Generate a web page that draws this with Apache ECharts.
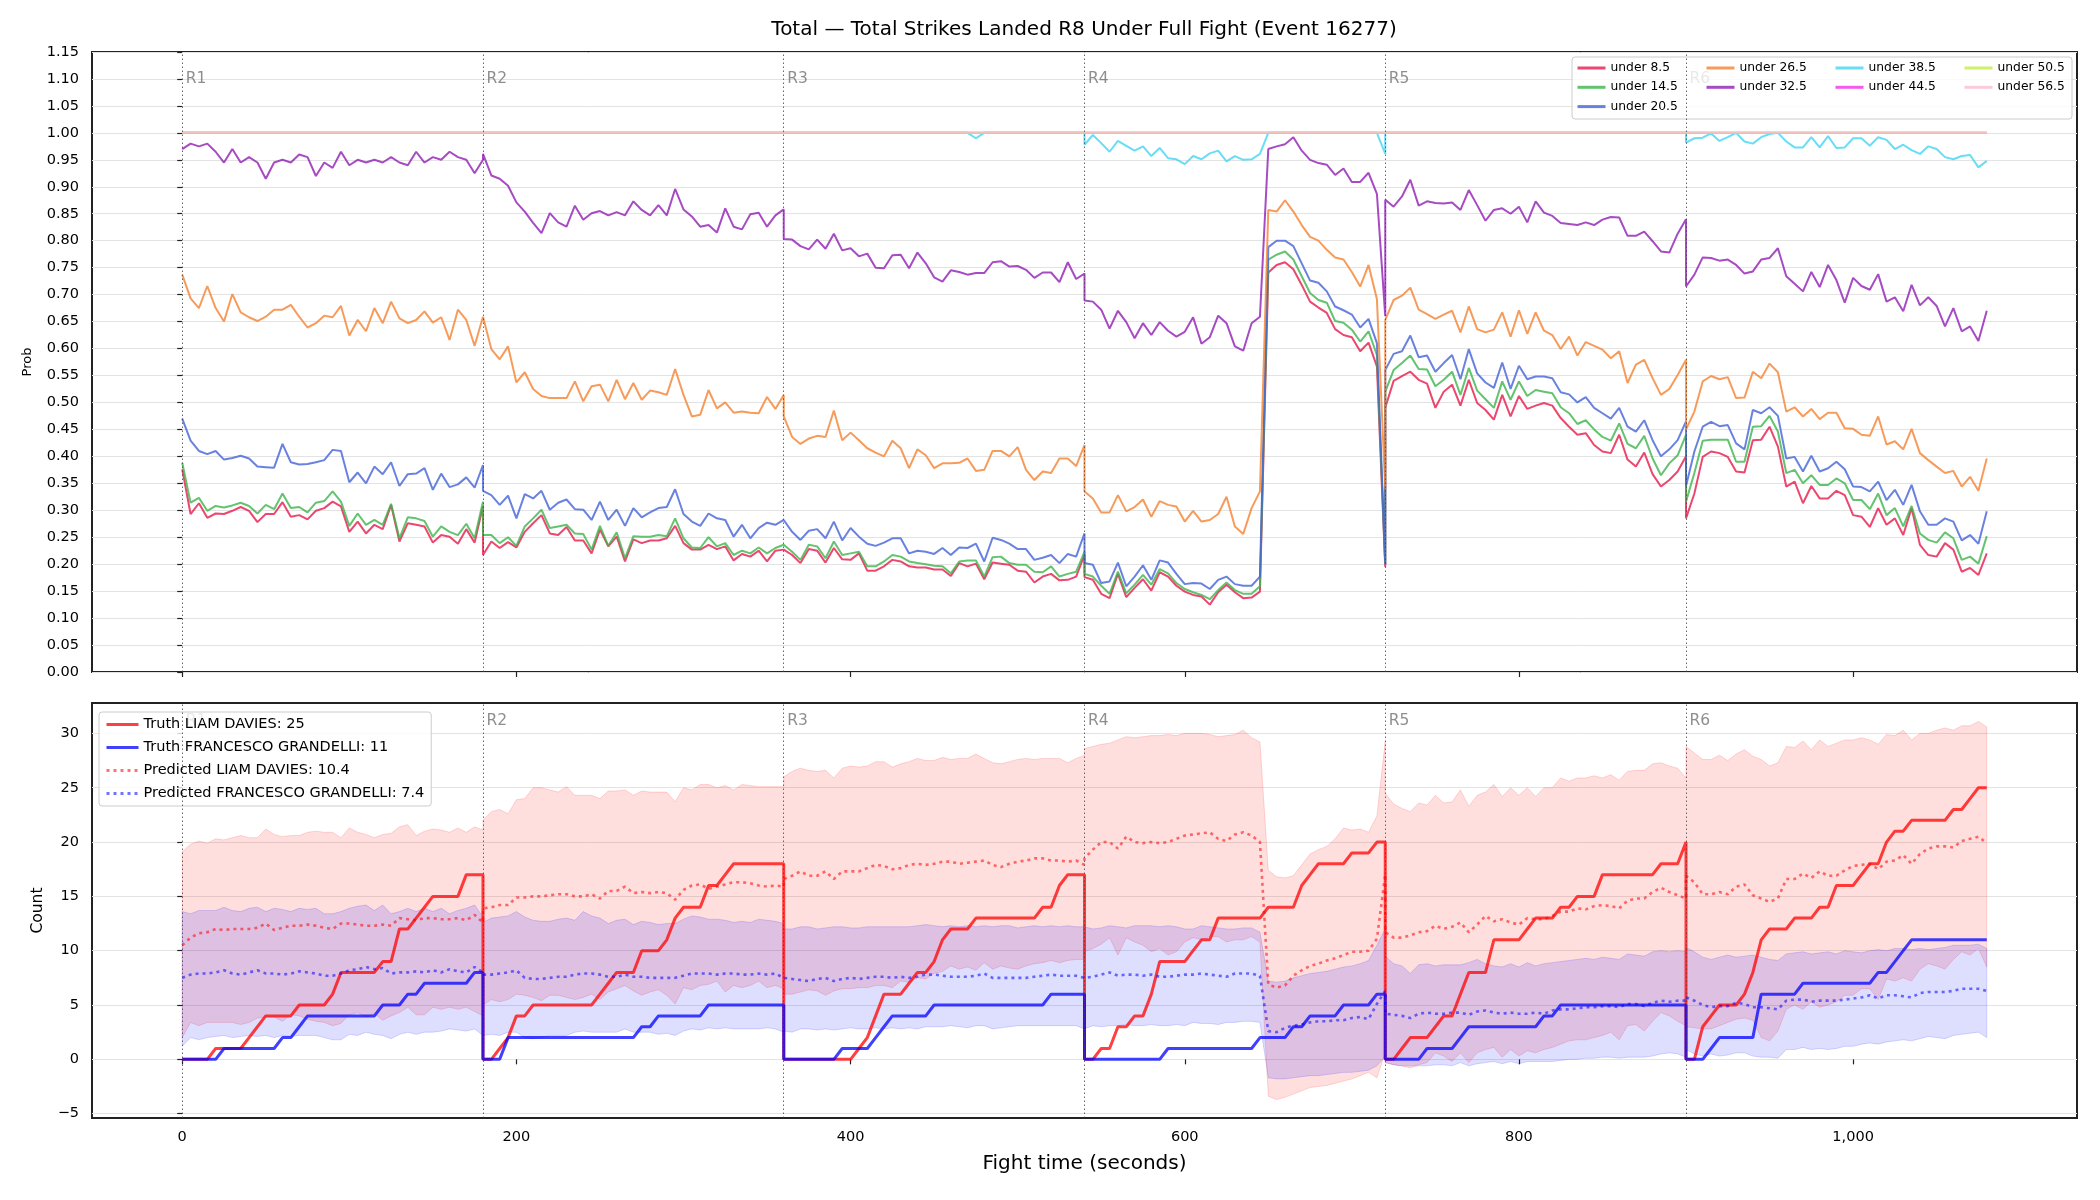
<!DOCTYPE html>
<html>
<head>
<meta charset="utf-8">
<title>Total Strikes Landed R8 Under Full Fight</title>
<script src="https://cdn.jsdelivr.net/npm/echarts@6/dist/echarts.min.js"></script>
<style>
html, body { margin: 0; padding: 0; background: #fff; }
#main { width: 2100px; height: 1200px; }
</style>
</head>
<body>
<div id="main"></div>
<script>
// rounds of the fight, samples every 5 s inside a round
var roundStarts = [0, 180, 360, 540, 720, 900];
var roundNames = ['R1', 'R2', 'R3', 'R4', 'R5', 'R6'];
var stepOffsets = [0, 5, 10, 15, 20, 25, 30, 35, 40, 45, 50, 55, 60, 65, 70, 75, 80, 85, 90, 95, 100, 105, 110, 115, 120, 125, 130, 135, 140, 145, 150, 155, 160, 165, 170, 175, 180];
var timeTicks = [0, 200, 400, 600, 800, 1000];
var countTicks = [-5, 0, 5, 10, 15, 20, 25, 30];

// top panel: P(total strikes under line), one array per round
var under8_5 = [
    [.376,.293,.313,.286,.294,.293,.299,.306,.299,.278,.293,.293,.315,.288,.291,.283,.299,.304,.316,.307,.260,.279,.257,.273,.265,.310,.242,.276,.273,.270,.240,.254,.251,.238,.265,.240,.308],
    [.217,.242,.230,.241,.231,.260,.276,.291,.257,.254,.269,.244,.244,.220,.264,.233,.251,.205,.246,.239,.244,.244,.248,.271,.239,.227,.227,.236,.228,.233,.207,.219,.214,.225,.205,.225,.227],
    [.227,.217,.202,.228,.225,.203,.230,.209,.208,.220,.188,.188,.196,.208,.205,.196,.194,.194,.190,.190,.178,.202,.196,.201,.172,.203,.201,.199,.188,.186,.166,.177,.182,.170,.171,.177,.217],
    [.176,.171,.145,.137,.182,.139,.156,.172,.151,.185,.177,.160,.149,.143,.140,.125,.148,.162,.148,.137,.138,.149,.741,.755,.760,.747,.718,.687,.676,.666,.636,.625,.621,.595,.611,.567,.195],
    [.49,.54,.549,.557,.542,.535,.49,.520,.533,.494,.542,.499,.486,.468,.514,.474,.512,.488,.494,.499,.494,.471,.455,.44,.443,.421,.409,.406,.44,.394,.381,.407,.367,.344,.356,.372,.40],
    [.285,.331,.399,.409,.406,.399,.372,.370,.430,.431,.455,.418,.344,.353,.313,.345,.322,.322,.336,.328,.291,.288,.269,.304,.273,.285,.254,.304,.236,.217,.214,.239,.227,.186,.193,.180,.220]
];
var under14_5 = [
    [.388,.314,.323,.299,.308,.305,.309,.314,.308,.294,.310,.302,.331,.304,.306,.296,.314,.317,.335,.316,.271,.294,.273,.282,.273,.312,.248,.287,.285,.280,.251,.270,.260,.254,.275,.248,.316],
    [.254,.254,.239,.250,.234,.270,.285,.301,.267,.270,.273,.257,.256,.227,.271,.234,.259,.211,.252,.251,.251,.254,.252,.285,.248,.231,.230,.250,.233,.239,.217,.225,.220,.231,.220,.230,.236],
    [.236,.223,.208,.236,.233,.211,.242,.217,.220,.223,.196,.196,.205,.217,.214,.205,.202,.200,.197,.196,.183,.205,.207,.207,.177,.213,.214,.202,.199,.199,.186,.185,.196,.177,.182,.186,.223],
    [.182,.177,.160,.145,.186,.146,.162,.180,.162,.191,.183,.165,.154,.148,.143,.135,.152,.166,.152,.145,.145,.159,.765,.774,.780,.765,.734,.703,.690,.685,.651,.648,.635,.613,.632,.588,.20],
    [.52,.56,.573,.587,.562,.561,.53,.542,.557,.514,.564,.522,.506,.490,.539,.505,.539,.512,.523,.520,.517,.491,.48,.46,.467,.45,.436,.429,.461,.423,.415,.438,.396,.365,.387,.402,.44],
    [.316,.369,.429,.431,.431,.431,.39,.39,.455,.456,.475,.446,.369,.375,.35,.365,.347,.347,.359,.35,.319,.319,.302,.331,.291,.304,.27,.308,.257,.245,.240,.259,.248,.208,.214,.201,.252]
];
var under20_5 = [
    [.47,.429,.41,.404,.41,.394,.397,.401,.396,.381,.380,.379,.423,.389,.385,.386,.389,.393,.412,.410,.352,.37,.35,.381,.367,.389,.345,.367,.368,.378,.338,.368,.343,.348,.361,.342,.384],
    [.336,.328,.31,.327,.285,.330,.322,.336,.301,.314,.320,.302,.301,.282,.316,.282,.301,.271,.304,.287,.296,.304,.306,.339,.293,.279,.271,.294,.285,.282,.251,.273,.248,.267,.277,.273,.282],
    [.282,.26,.245,.262,.265,.248,.279,.244,.267,.251,.238,.234,.240,.248,.248,.220,.225,.223,.219,.230,.217,.231,.230,.238,.205,.249,.245,.238,.228,.228,.208,.212,.217,.202,.219,.214,.257],
    [.202,.199,.165,.168,.203,.159,.177,.198,.171,.207,.203,.182,.163,.165,.164,.154,.171,.177,.163,.160,.160,.177,.788,.800,.800,.790,.758,.726,.722,.706,.678,.671,.663,.639,.655,.610,.20],
    [.56,.59,.595,.624,.584,.587,.557,.573,.588,.543,.599,.554,.537,.527,.574,.525,.568,.543,.548,.548,.545,.519,.515,.50,.51,.49,.48,.47,.49,.455,.446,.467,.43,.40,.413,.43,.465],
    [.345,.409,.455,.464,.456,.458,.424,.413,.486,.48,.491,.475,.396,.399,.372,.401,.372,.378,.39,.376,.344,.343,.335,.353,.319,.338,.31,.347,.298,.273,.273,.285,.279,.244,.254,.238,.298]
];
var under26_5 = [
    [.737,.693,.675,.716,.675,.650,.701,.667,.658,.651,.659,.672,.672,.681,.659,.639,.647,.661,.658,.679,.624,.653,.632,.675,.647,.687,.656,.647,.653,.669,.648,.658,.616,.672,.653,.605,.659],
    [.66,.599,.580,.604,.537,.556,.525,.512,.508,.508,.508,.539,.502,.530,.533,.502,.542,.506,.536,.505,.522,.519,.514,.562,.514,.474,.477,.523,.489,.500,.481,.483,.481,.480,.510,.488,.514],
    [.474,.436,.423,.433,.438,.436,.485,.430,.444,.430,.415,.407,.400,.429,.415,.378,.413,.402,.378,.387,.387,.388,.396,.373,.375,.410,.410,.400,.417,.375,.356,.372,.369,.396,.396,.382,.421],
    [.335,.322,.296,.296,.328,.298,.306,.320,.288,.317,.310,.307,.279,.299,.279,.282,.293,.325,.270,.256,.304,.335,.857,.854,.875,.854,.829,.807,.800,.783,.769,.765,.742,.715,.755,.692,.34],
    [.653,.690,.698,.713,.672,.664,.655,.663,.670,.630,.678,.636,.630,.635,.667,.622,.671,.627,.667,.633,.625,.599,.622,.587,.612,.605,.598,.582,.595,.536,.570,.579,.545,.514,.525,.551,.579],
    [.45,.483,.539,.549,.543,.547,.508,.509,.557,.545,.572,.556,.483,.491,.474,.488,.469,.481,.481,.452,.451,.440,.438,.474,.422,.428,.413,.451,.406,.393,.381,.369,.373,.344,.362,.336,.396]
];
var under32_5 = [
    [.97,.98,.975,.98,.965,.945,.97,.945,.955,.945,.915,.945,.95,.945,.96,.955,.92,.945,.935,.965,.94,.95,.945,.95,.945,.955,.945,.94,.965,.945,.955,.95,.965,.955,.95,.925,.95],
    [.961,.921,.915,.902,.871,.854,.833,.814,.851,.834,.826,.865,.839,.851,.855,.847,.853,.847,.873,.857,.847,.866,.847,.896,.858,.845,.826,.829,.815,.860,.826,.821,.849,.852,.826,.847,.858],
    [.803,.802,.790,.784,.802,.785,.813,.782,.786,.771,.776,.750,.749,.773,.774,.749,.778,.758,.732,.724,.745,.742,.737,.740,.740,.760,.762,.752,.753,.746,.731,.741,.741,.723,.760,.729,.739],
    [.689,.687,.672,.637,.670,.649,.619,.647,.625,.649,.633,.622,.631,.658,.609,.621,.661,.647,.604,.596,.647,.659,.970,.975,.979,.992,.967,.950,.944,.941,.922,.934,.909,.909,.926,.887,.66],
    [.876,.863,.882,.913,.865,.873,.870,.869,.871,.857,.894,.866,.837,.857,.860,.850,.863,.834,.873,.852,.846,.833,.831,.829,.834,.829,.839,.844,.843,.809,.809,.817,.799,.780,.778,.813,.840],
    [.715,.737,.769,.768,.763,.765,.755,.739,.743,.765,.768,.786,.734,.720,.706,.742,.714,.755,.727,.685,.731,.716,.709,.738,.687,.695,.669,.718,.68,.695,.679,.641,.675,.632,.641,.614,.670]
];
var under38_5 = [
    [1,1,1,1,1,1,1,1,1,1,1,1,1,1,1,1,1,1,1,1,1,1,1,1,1,1,1,1,1,1,1,1,1,1,1,1,1],
    [1,1,1,1,1,1,1,1,1,1,1,1,1,1,1,1,1,1,1,1,1,1,1,1,1,1,1,1,1,1,1,1,1,1,1,1,1],
    [1,1,1,1,1,1,1,1,1,1,1,1,1,1,1,1,1,1,1,1,1,1,1,.99,1,1,1,1,1,1,1,1,1,1,1,1,1],
    [.978,.996,.981,.965,.985,.976,.967,.975,.957,.972,.953,.951,.942,.957,.951,.962,.967,.947,.957,.950,.951,.961,1,1,1,1,1,1,1,1,1,1,1,1,1,1,.961],
    [1,1,1,1,1,1,1,1,1,1,1,1,1,1,1,1,1,1,1,1,1,1,1,1,1,1,1,1,1,1,1,1,1,1,1,1,1],
    [.982,.990,.991,.999,.985,.992,1,.984,.980,.992,.998,1,.984,.973,.973,.992,.973,.994,.972,.973,.990,.990,.976,.992,.987,.970,.978,.968,.961,.975,.970,.955,.951,.957,.959,.936,.948]
];
// the three highest lines sit at 1.0 for the whole fight
var flatTimes = [0, 1080];
var under44_5 = [1, 1];
var under50_5 = [1, 1];
var under56_5 = [1, 1];

// bottom panel: cumulative strikes per round
var truthLiam = [
    [0,0,0,0,1,1,1,1,2,3,4,4,4,4,5,5,5,5,6,8,8,8,8,8,9,9,12,12,13,14,15,15,15,15,17,17,17],
    [0,0,1,2,4,4,5,5,5,5,5,5,5,5,6,7,8,8,8,10,10,10,11,13,14,14,14,16,16,17,18,18,18,18,18,18,18],
    [0,0,0,0,0,0,0,0,0,1,2,4,6,6,6,7,8,8,9,11,12,12,12,13,13,13,13,13,13,13,13,14,14,16,17,17,17],
    [0,0,1,1,3,3,4,4,6,9,9,9,9,10,11,11,13,13,13,13,13,13,14,14,14,14,16,17,18,18,18,18,19,19,19,20,20],
    [0,0,1,2,2,2,3,4,4,6,8,8,8,11,11,11,11,12,13,13,13,14,14,15,15,15,17,17,17,17,17,17,17,18,18,18,20],
    [0,0,3,4,5,5,5,6,8,11,12,12,12,13,13,13,14,14,16,16,16,17,18,18,20,21,21,22,22,22,22,22,23,23,24,25,25]
];
var truthFran = [
    [0,0,0,0,0,1,1,1,1,1,1,1,2,2,3,4,4,4,4,4,4,4,4,4,5,5,5,6,6,7,7,7,7,7,7,8,8],
    [0,0,0,2,2,2,2,2,2,2,2,2,2,2,2,2,2,2,2,3,3,4,4,4,4,4,4,5,5,5,5,5,5,5,5,5,5],
    [0,0,0,0,0,0,0,1,1,1,1,2,3,4,4,4,4,4,5,5,5,5,5,5,5,5,5,5,5,5,5,5,6,6,6,6,6],
    [0,0,0,0,0,0,0,0,0,0,1,1,1,1,1,1,1,1,1,1,1,2,2,2,2,3,3,4,4,4,4,5,5,5,5,6,6],
    [0,0,0,0,0,1,1,1,1,2,3,3,3,3,3,3,3,3,3,4,4,5,5,5,5,5,5,5,5,5,5,5,5,5,5,5,5],
    [0,0,0,1,2,2,2,2,2,6,6,6,6,6,7,7,7,7,7,7,7,7,7,8,8,9,10,11,11,11,11,11,11,11,11,11,11]
];
var predLiam = [
    [10.5,11.2,11.6,11.7,12.0,11.9,12.0,12.0,12.0,12.1,12.5,11.9,12.1,12.3,12.3,12.4,12.3,12.1,12.0,12.5,12.5,12.4,12.3,12.3,12.4,12.3,13.0,12.9,12.8,13.0,13.0,12.9,12.9,13.0,12.8,13.3,12.6],
    [13.9,14.0,14.2,14.2,14.9,14.9,15.0,15.0,15.1,15.2,15.2,15.0,15.0,15.2,14.8,15.5,15.5,15.9,15.3,15.4,15.3,15.4,15.3,14.7,15.6,16.0,16.1,15.7,15.9,16.1,16.3,16.3,16.2,16.0,15.9,16.0,15.9],
    [16.6,16.9,17.3,16.9,16.9,17.3,16.6,17.3,17.3,17.3,17.6,17.9,17.8,17.5,17.6,17.9,18.0,17.9,18.0,18.2,18.2,18.0,18.1,18.2,18.3,17.9,17.7,18.0,18.2,18.3,18.5,18.5,18.3,18.3,18.2,18.3,17.9],
    [18.5,19.3,20.0,20.0,19.4,20.5,20.0,19.9,20.0,19.9,20.0,20.3,20.6,20.7,20.8,20.9,20.3,20.1,20.7,20.9,20.6,20.0,6.9,6.6,6.8,7.7,8.2,8.6,8.8,9.1,9.3,9.6,9.9,9.9,10.0,11.1,17.0],
    [11.7,11.2,11.2,11.4,11.7,11.8,12.3,12.0,12.2,12.6,11.7,12.4,13.2,12.7,12.9,12.6,12.4,13.0,12.9,12.9,13.2,13.6,13.6,13.9,13.8,14.1,14.2,14.1,13.9,14.6,14.8,14.8,15.4,15.8,15.4,15.1,14.8],
    [16.9,16.3,15.2,15.2,15.4,15.2,15.9,16.1,15.1,14.8,14.5,14.8,16.6,16.6,17.1,16.7,17.3,16.9,16.9,17.4,17.8,17.9,18.0,17.5,18.2,18.3,18.8,18.0,18.9,19.4,19.6,19.6,19.5,20.1,20.3,20.5,19.9]
];
var predFran = [
    [7.5,7.8,7.9,7.9,8.0,8.2,7.9,7.8,8.0,8.2,7.9,7.9,7.8,7.9,8.1,8.0,7.9,7.7,7.7,7.9,8.2,8.3,8.5,8.3,8.4,7.9,8.0,8.0,8.1,8.0,8.2,8.0,8.3,8.1,8.0,8.5,8.0],
    [7.8,7.8,7.9,8.0,8.2,7.5,7.4,7.4,7.5,7.6,7.6,7.8,7.9,7.9,7.8,7.6,7.6,7.8,7.6,7.6,7.5,7.5,7.5,7.5,7.7,7.9,7.9,7.9,7.8,7.9,7.9,7.8,7.8,7.9,7.8,7.9,7.5],
    [7.4,7.4,7.3,7.2,7.4,7.5,7.2,7.4,7.5,7.4,7.5,7.6,7.6,7.5,7.6,7.5,7.6,7.8,7.8,7.7,7.6,7.6,7.6,7.7,7.9,7.5,7.5,7.5,7.5,7.5,7.6,7.7,7.8,7.7,7.7,7.7,7.5],
    [7.4,7.6,7.8,8.0,7.7,7.8,7.8,7.7,7.8,7.6,7.6,7.7,7.8,7.8,7.9,7.8,7.7,7.6,7.9,7.9,7.9,7.7,2.6,2.5,2.9,3.1,3.2,3.4,3.5,3.5,3.6,3.6,3.8,3.9,3.7,5.1,6.3],
    [4.2,4.1,4.0,3.8,4.2,4.3,4.2,4.2,4.3,4.3,4.1,4.4,4.5,4.3,4.2,4.3,4.2,4.2,4.3,4.2,4.5,4.6,4.6,4.7,4.8,4.8,4.9,4.9,4.8,5.1,5.1,4.9,5.2,5.4,5.3,5.4,5.4],
    [5.7,5.4,5.0,4.8,4.9,4.9,5.2,5.1,4.8,4.8,4.7,4.6,5.4,5.5,5.5,5.3,5.4,5.4,5.4,5.5,5.6,5.7,5.9,5.6,5.9,5.9,5.8,5.7,6.1,6.2,6.2,6.2,6.3,6.5,6.5,6.5,6.3]
];
var liamHigh = [
    [19.1,19.8,20.1,19.9,20.3,20.2,20.4,20.6,20.4,20.4,21.2,20.7,20.5,20.6,20.6,20.9,21.0,20.9,20.9,20.4,21.3,20.9,20.7,20.4,20.7,20.8,21.4,21.6,20.6,21.0,21.2,21.1,20.9,21.3,20.9,21.4,21.1],
    [22.0,22.8,23.0,22.6,23.9,24.0,25.0,25.0,24.8,24.6,25.1,24.3,24.3,24.3,24.0,24.7,24.7,24.8,24.3,24.7,24.6,24.6,24.6,23.7,25.0,24.8,25.3,25.3,25.0,25.2,24.8,25.3,25.2,25.1,25.1,25.1,25.1],
    [26.0,26.5,26.8,26.6,26.5,26.6,25.9,26.8,27.0,26.9,27.0,27.4,27.4,26.9,27.2,27.4,27.7,27.5,27.5,27.8,27.6,27.7,27.7,28.1,27.7,27.3,27.2,27.4,27.6,27.7,27.6,27.7,27.7,27.7,27.3,27.7,28.0],
    [28.6,28.8,29.0,29.1,29.4,29.7,29.6,29.7,29.8,29.8,29.9,29.8,30.0,30.0,30.0,29.9,29.7,29.8,29.9,30.3,29.6,29.2,17.4,16.8,16.7,16.9,17.9,18.9,19.3,19.6,20.3,21.3,21.1,21.2,20.9,22.4,29.3],
    [24.5,23.5,23.1,22.8,23.6,23.4,24.3,23.6,23.7,24.8,23.3,24.3,24.6,25.3,24.2,25.0,24.3,25.0,24.2,25.0,25.0,25.9,25.6,25.9,25.9,26.1,25.9,26.2,25.7,26.5,26.6,26.6,27.2,27.3,27.0,26.8,25.9],
    [28.8,28.2,27.6,27.6,28.0,27.5,28.1,28.5,27.9,27.6,27.0,27.3,28.8,28.7,29.3,28.5,29.4,28.8,29.1,29.4,29.4,29.6,29.4,29.0,29.9,29.8,30.3,29.4,30.0,30.0,30.3,30.5,30.3,30.7,30.7,31.1,30.6]
];
var liamLow = [
    [2.0,3.4,3.1,3.4,3.4,3.4,3.4,3.2,3.4,3.8,3.9,3.9,3.5,4.1,4.0,3.7,3.5,3.4,3.1,3.3,4.1,4.3,3.9,4.2,3.6,4.0,4.3,4.8,4.1,4.1,4.8,4.6,4.8,4.6,4.8,4.4,4.0],
    [5.0,5.5,5.3,5.5,6.0,5.9,5.7,5.4,5.9,5.9,5.7,5.5,5.7,6.0,5.5,6.2,6.5,6.8,6.3,5.9,6.2,6.4,5.9,5.1,6.6,6.4,6.8,6.9,7.2,6.2,6.8,6.6,6.8,7.2,6.6,6.8,6.5],
    [6.0,6.0,6.2,6.4,6.3,5.9,6.3,6.5,6.5,6.6,6.6,6.8,6.8,6.6,7.2,7.1,7.5,7.4,7.9,8.1,8.6,8.3,8.5,8.2,8.9,8.3,8.6,8.4,8.3,8.6,8.8,8.9,9.1,8.9,9.1,9.2,9.2],
    [9.9,10.2,10.6,11.2,9.6,11.2,10.8,10.5,9.9,10.2,9.6,9.9,10.8,11.2,11.0,11.3,11.3,10.8,11.0,11.0,11.3,10.8,-3.4,-3.7,-3.5,-3.2,-2.9,-2.6,-2.5,-2.4,-2.2,-2.0,-1.8,-1.5,-1.2,-1.7,0.6],
    [-0.3,-0.5,-0.6,-0.8,-0.5,-0.3,0.6,0.3,-0.2,0.6,-0.3,0.6,0.9,1.1,0.2,0.9,0.3,0.8,0.6,0.9,1.1,1.4,1.7,1.8,1.8,2.0,2.2,2.5,1.8,3.1,3.2,2.6,3.5,4.3,4.0,3.5,3.1],
    [3.0,2.9,2.8,2.8,3.1,3.4,3.7,3.8,3.6,2.0,1.7,2.6,4.6,5.0,4.6,5.3,4.8,5.0,5.3,5.9,5.9,6.5,6.5,5.5,7.4,7.2,7.5,7.2,8.3,8.8,8.6,8.3,9.2,9.9,9.6,10.2,8.5]
];
var franHigh = [
    [13.6,13.4,13.7,13.7,13.7,14.0,13.7,13.6,13.9,14.0,13.6,13.9,13.8,13.6,13.9,13.8,13.9,13.4,13.4,13.6,13.9,14.1,14.2,13.7,14.2,13.4,13.6,13.9,13.6,13.9,13.6,13.9,13.4,13.7,13.9,14.2,13.1],
    [12.6,13.0,13.1,13.2,13.6,13.1,12.8,12.7,12.7,12.9,13.0,12.8,13.6,13.2,13.0,12.5,12.8,12.9,12.4,12.7,12.6,12.4,12.5,12.5,12.9,13.2,13.1,12.9,12.9,12.8,12.6,12.7,12.6,12.9,12.8,12.7,12.5],
    [12.0,12.0,12.2,12.2,12.0,12.1,12.2,12.2,12.1,12.1,12.2,12.2,12.2,12.2,12.2,12.2,12.3,12.4,12.3,12.2,12.3,12.2,12.3,12.2,12.3,12.2,12.3,12.3,12.1,12.2,12.3,12.2,12.3,12.2,12.3,12.2,12.2],
    [12.2,12.0,12.1,12.3,12.2,12.1,12.3,12.3,12.3,12.2,12.3,12.2,12.0,12.0,12.3,12.2,12.1,12.0,12.0,12.1,12.1,11.7,7.2,7.1,7.2,7.5,7.7,7.9,8.0,8.1,8.3,8.5,8.6,8.8,9.1,10.5,12.0],
    [9.5,8.8,8.6,7.9,8.7,8.8,8.6,8.7,8.7,8.7,8.9,9.2,8.8,8.6,8.5,8.8,8.5,8.9,8.6,8.8,8.9,9.0,9.1,9.2,9.3,9.2,9.4,9.3,9.2,9.7,9.6,9.5,9.9,10.0,9.9,10.0,9.9],
    [10.3,9.9,9.4,9.2,9.4,9.6,9.4,9.5,9.6,9.4,9.2,9.1,9.7,9.8,9.9,9.7,9.8,9.9,9.7,10.0,9.9,9.8,10.0,10.1,10.0,10.2,10.2,10.1,10.2,10.1,10.2,10.3,10.5,10.5,10.5,10.6,10.2]
];
var franLow = [
    [1.2,2.0,1.8,2.0,2.1,2.2,2.0,2.1,2.2,2.1,2.2,2.0,2.2,2.1,2.2,2.2,2.2,2.0,1.8,1.8,2.3,2.2,2.5,2.3,2.2,1.9,2.3,2.5,2.3,2.5,2.5,2.6,2.8,2.7,2.6,2.8,2.2],
    [2.2,2.3,2.2,2.5,2.5,2.0,1.9,2.0,2.2,2.2,2.2,2.5,2.6,2.5,2.5,2.5,2.5,2.8,2.5,2.5,2.5,2.3,2.4,2.2,2.6,2.8,2.7,2.9,2.8,2.9,2.8,2.8,2.8,2.8,2.9,2.8,2.5],
    [2.6,2.5,2.8,2.8,2.7,2.8,2.7,2.8,2.9,2.8,2.8,2.9,2.8,2.9,2.8,2.9,2.8,3.0,3.0,3.0,3.1,3.0,2.9,3.1,3.1,2.8,2.9,3.0,3.1,3.1,3.1,3.1,3.1,3.1,3.1,3.1,2.8],
    [2.8,3.1,3.0,3.1,3.1,3.2,3.1,3.1,3.2,3.1,3.1,3.2,3.1,3.4,3.3,3.3,3.2,3.4,3.4,3.5,3.5,3.4,-1.7,-1.8,-1.8,-1.7,-1.6,-1.5,-1.5,-1.4,-1.3,-1.2,-1.2,-1.1,-1.0,-0.6,0.3],
    [-0.3,-0.5,-0.6,-0.6,-0.6,-0.6,-0.5,-0.5,-0.6,-0.3,-0.6,-0.4,-0.3,-0.2,-0.4,-0.2,-0.4,-0.2,-0.2,-0.2,-0.2,-0.1,0.0,0.0,0.1,0.1,0.2,0.2,0.1,0.2,0.2,0.2,0.3,0.5,0.6,0.5,0.2],
    [0.9,0.5,0.3,0.5,0.3,0.4,0.6,0.6,0.3,0.2,0.2,0.1,0.9,0.9,1.1,0.9,1.0,0.9,1.0,1.2,1.2,1.4,1.5,1.4,1.6,1.7,1.8,1.7,1.9,2.1,2.0,1.9,2.2,2.3,2.4,2.5,2.0]
];

var lineNames = ['under 8.5', 'under 14.5', 'under 20.5', 'under 26.5', 'under 32.5', 'under 38.5', 'under 44.5', 'under 50.5', 'under 56.5'];
var lineColors = ['#e6194b', '#3cb44b', '#4363d8', '#f58231', '#911eb4', '#42d4f4', '#f032e6', '#bfef45', '#fabed4'];
var legendNames = ['Truth LIAM DAVIES: 25', 'Truth FRANCESCO GRANDELLI: 11', 'Predicted LIAM DAVIES: 10.4', 'Predicted FRANCESCO GRANDELLI: 7.4'];

var FONT = 'DejaVu Sans';

function roundPoints(rounds) {
    var pts = [];
    rounds.forEach(function (vals, r) {
        vals.forEach(function (v, i) {
            pts.push([roundStarts[r] + stepOffsets[i], v]);
        });
    });
    return pts;
}
function flatPoints(vals) {
    return flatTimes.map(function (t, i) { return [t, vals[i]]; });
}

function roundMarks(gridIdx, labelY) {
    return {
        type: 'scatter',
        xAxisIndex: gridIdx,
        yAxisIndex: gridIdx,
        silent: true,
        symbolSize: 1,
        itemStyle: { color: 'rgba(0,0,0,0)' },
        data: roundStarts.map(function (t) { return [t, labelY]; }),
        label: {
            show: true,
            position: 'right',
            distance: 3,
            formatter: function (p) { return roundNames[p.dataIndex]; },
            color: 'rgba(90,90,90,0.85)',
            fontFamily: FONT,
            fontSize: 15.5
        },
        markLine: {
            silent: true,
            symbol: ['none', 'none'],
            label: { show: false },
            lineStyle: { color: '#444', type: [1.5, 2.5], width: 1, opacity: 0.8 },
            data: roundStarts.map(function (t) { return { xAxis: t }; })
        }
    };
}

var topData = [under8_5, under14_5, under20_5, under26_5, under32_5, under38_5];
var series = [roundMarks(0, 1.10)];
lineNames.forEach(function (name, k) {
    var pts;
    if (k < topData.length) pts = roundPoints(topData[k]);
    else pts = flatPoints([under44_5, under50_5, under56_5][k - topData.length]);
    series.push({
        name: name,
        type: 'line',
        xAxisIndex: 0,
        yAxisIndex: 0,
        symbol: 'none',
        data: pts,
        color: lineColors[k],
        lineStyle: { width: 2, color: lineColors[k], opacity: 0.8 }
    });
});

series.push(roundMarks(1, 31.1));

// shaded prediction interval, drawn as one polygon through the axis scales
function band(rgb, hi, lo) {
    var hiPts = roundPoints(hi);
    var loPts = roundPoints(lo).reverse();
    return {
        type: 'custom',
        xAxisIndex: 1,
        yAxisIndex: 1,
        silent: true,
        data: [[0, 0]],
        renderItem: function (params, api) {
            var pts = hiPts.concat(loPts).map(function (p) { return api.coord(p); });
            return {
                type: 'polygon',
                shape: { points: pts },
                style: { fill: 'rgba(' + rgb + ',0.13)', stroke: 'rgba(' + rgb + ',0.15)', lineWidth: 1 }
            };
        }
    };
}
series.push(band('255,0,0', liamHigh, liamLow));
series.push(band('0,0,255', franHigh, franLow));

[[truthLiam, 'rgba(255,0,0,0.75)', 'solid'], [truthFran, 'rgba(0,0,255,0.75)', 'solid'],
 [predLiam, 'rgba(255,0,0,0.55)', [3, 4]], [predFran, 'rgba(0,0,255,0.55)', [3, 4]]].forEach(function (s, k) {
    series.push({
        name: legendNames[k],
        type: 'line',
        xAxisIndex: 1,
        yAxisIndex: 1,
        symbol: 'none',
        data: roundPoints(s[0]),
        color: s[1],
        lineStyle: { width: k < 2 ? 3 : 2.6, color: s[1], type: s[2] }
    });
});

var tickText = { fontFamily: FONT, fontSize: 14.5, color: '#000' };

function timeAxis(gridIdx, showLabels) {
    return {
        type: 'value',
        gridIndex: gridIdx,
        min: -54,
        max: 1134,
        axisLine: { show: false },
        axisTick: { show: true, length: 5, customValues: timeTicks, lineStyle: { color: '#222', width: 1.2 } },
        axisLabel: Object.assign({ show: showLabels, margin: 12, customValues: timeTicks }, tickText),
        splitLine: { show: false },
        name: showLabels ? 'Fight time (seconds)' : '',
        nameLocation: 'middle',
        nameGap: 36,
        nameTextStyle: { fontFamily: FONT, fontSize: 20, color: '#000' }
    };
}

var legendCols = [
    ['under 8.5', 'under 14.5', 'under 20.5'],
    ['under 26.5', 'under 32.5'],
    ['under 38.5', 'under 44.5'],
    ['under 50.5', 'under 56.5']
];
var legendColX = [1576, 1705, 1834, 1963];
var legends = legendCols.map(function (names, k) {
    return {
        data: names,
        orient: 'vertical',
        left: legendColX[k],
        top: 62,
        padding: 0,
        itemWidth: 28,
        itemHeight: 12,
        itemGap: 7.3,
        selectedMode: false,
        itemStyle: { opacity: 0 },
        lineStyle: { width: 3 },
        textStyle: { fontFamily: FONT, fontSize: 12.3, color: '#000' }
    };
});
legends.push({
    data: legendNames,
    orient: 'vertical',
    left: 99,
    top: 712,
    padding: [5, 7, 5, 6],
    itemWidth: 32,
    itemHeight: 14.5,
    itemGap: 8,
    selectedMode: false,
    itemStyle: { opacity: 0 },
    lineStyle: { width: 3 },
    backgroundColor: 'rgba(255,255,255,0.8)',
    borderColor: '#cccccc',
    borderWidth: 1,
    borderRadius: 3,
    textStyle: { fontFamily: FONT, fontSize: 14.5, color: '#000' }
});

var myChart = echarts.init(document.getElementById('main'), null, { renderer: 'canvas' });
var option = {
    animation: false,
    backgroundColor: '#ffffff',
    textStyle: { fontFamily: FONT },
    title: {
        text: 'Total \u2014 Total Strikes Landed R8 Under Full Fight (Event 16277)',
        left: 1084,
        textAlign: 'center',
        top: 20,
        padding: 0,
        textStyle: { fontFamily: FONT, fontSize: 20, fontWeight: 'normal', color: '#000' }
    },
    legend: legends,
    graphic: [{
        type: 'rect',
        z: 3,
        shape: { x: 1572, y: 57, width: 500, height: 62, r: 3 },
        style: { fill: 'rgba(255,255,255,0.8)', stroke: '#cccccc', lineWidth: 1 }
    }],
    grid: [
        { left: 92, top: 52, width: 1985, height: 620, show: true, borderColor: '#222', borderWidth: 2, backgroundColor: 'transparent' },
        { left: 92, top: 703, width: 1985, height: 415, show: true, borderColor: '#222', borderWidth: 2, backgroundColor: 'transparent' }
    ],
    xAxis: [timeAxis(0, false), timeAxis(1, true)],
    yAxis: [{
        type: 'value',
        gridIndex: 0,
        min: 0,
        max: 1.15,
        interval: 0.05,
        axisLine: { show: false },
        axisTick: { show: true, length: 5, lineStyle: { color: '#222', width: 1.2 } },
        axisLabel: Object.assign({ margin: 13, formatter: function (v) { return v.toFixed(2); } }, tickText),
        splitLine: { show: true, lineStyle: { color: '#e3e3e3', width: 1 } },
        name: 'Prob',
        nameLocation: 'middle',
        nameGap: 58,
        nameTextStyle: { fontFamily: FONT, fontSize: 13, color: '#000' }
    }, {
        type: 'value',
        gridIndex: 1,
        min: -5.4,
        max: 32.8,
        axisLine: { show: false },
        axisTick: { show: true, length: 5, customValues: countTicks, lineStyle: { color: '#222', width: 1.2 } },
        axisLabel: Object.assign({
            margin: 13,
            customValues: countTicks,
            formatter: function (v) { return v < 0 ? '\u2212' + Math.abs(v) : String(v); }
        }, tickText),
        splitLine: { show: true, lineStyle: { color: '#e3e3e3', width: 1 } },
        name: 'Count',
        nameLocation: 'middle',
        nameGap: 46,
        nameTextStyle: { fontFamily: FONT, fontSize: 15.5, color: '#000' }
    }],
    series: series
};
myChart.setOption(option);
</script>
</body>
</html>
